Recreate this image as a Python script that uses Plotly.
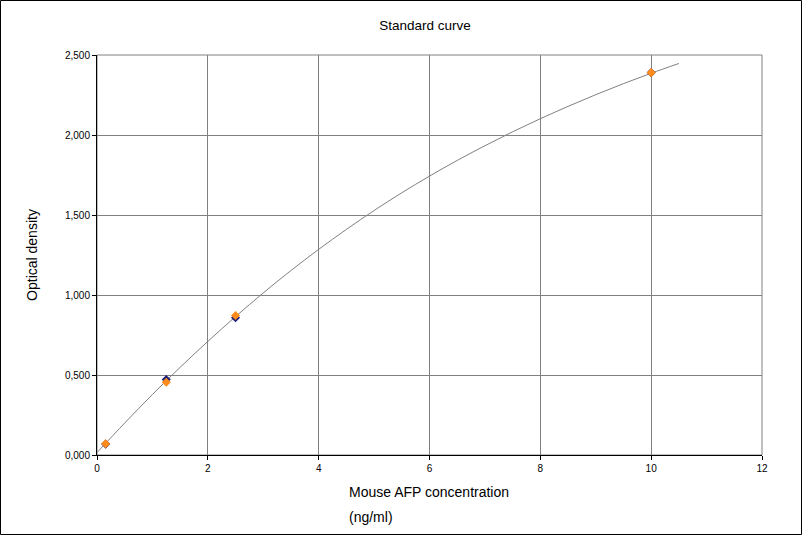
import plotly.graph_objects as go

# standard concentrations (ng/ml) and measured OD, two replicates
conc = [0.156, 1.25, 2.5, 10]
od_rep1 = [0.068, 0.472, 0.858, 2.390]
od_rep2 = [0.070, 0.455, 0.872, 2.390]

# fitted curve, every 0.5 ng/ml
fit_x = [0, 0.5, 1.0, 1.5, 2.0, 2.5, 3.0, 3.5, 4.0, 4.5, 5.0,
         5.5, 6.0, 6.5, 7.0, 7.5, 8.0, 8.5, 9.0, 9.5, 10.0, 10.5]
fit_y = [0.015, 0.200, 0.378, 0.548, 0.710, 0.865, 1.013, 1.153, 1.285, 1.410, 1.528,
         1.639, 1.743, 1.841, 1.933, 2.020, 2.102, 2.179, 2.252, 2.321, 2.386, 2.447]

x_ticks = [0, 2, 4, 6, 8, 10, 12]
y_ticks = [0, 0.5, 1.0, 1.5, 2.0, 2.5]

FONT = "Liberation Sans"

fig = go.Figure()

fig.add_trace(go.Scatter(
    x=fit_x, y=fit_y, mode="lines",
    line=dict(color="#808080", width=1, shape="spline"),
    showlegend=False, hoverinfo="skip"))

fig.add_trace(go.Scatter(
    x=conc, y=od_rep1, mode="markers",
    marker=dict(symbol="diamond", size=7, color="#1f1f7a"),
    showlegend=False))

fig.add_trace(go.Scatter(
    x=conc, y=od_rep2, mode="markers",
    marker=dict(symbol="diamond", size=7, color="#ff8c1a"),
    showlegend=False))

fig.update_layout(
    width=802, height=535,
    margin=dict(l=97, r=40, t=55, b=80),
    paper_bgcolor="white", plot_bgcolor="white",
    separators=",.",
    font=dict(family=FONT, size=10, color="black"),
    title=dict(text="Standard curve", x=0.53, xanchor="center", y=0.953, yanchor="middle",
               font=dict(family=FONT, size=13.5)),
    showlegend=False,
)

fig.update_xaxes(
    range=[0, 12], tickvals=x_ticks, showgrid=True, gridcolor="#808080", gridwidth=1,
    showline=True, linecolor="black", linewidth=1, ticks="outside", ticklen=4,
    tickcolor="black", zeroline=False)

fig.update_yaxes(
    range=[0, 2.5], tickvals=y_ticks, tickformat=".3f", showgrid=True,
    gridcolor="#808080", gridwidth=1,
    showline=True, linecolor="black", linewidth=1, ticks="outside", ticklen=4,
    tickcolor="black", zeroline=False,
    title=dict(text="Optical density", font=dict(family=FONT, size=14), standoff=24))

# right/top border of the plot area in grey
fig.add_shape(type="rect", xref="paper", yref="paper", x0=0, y0=0, x1=1, y1=1,
              line=dict(color="#808080", width=1), layer="below")

# x axis title, two left-aligned lines
fig.add_annotation(
    text="Mouse AFP concentration", xref="paper", yref="paper",
    x=0.376, y=-0.0925, xanchor="left", yanchor="middle", showarrow=False,
    font=dict(family=FONT, size=14))
fig.add_annotation(
    text="(ng/ml)", xref="paper", yref="paper",
    x=0.376, y=-0.155, xanchor="left", yanchor="middle", showarrow=False,
    font=dict(family=FONT, size=14))

# black frame around the whole picture
fig.add_shape(type="rect", xref="paper", yref="paper",
              x0=-96.5 / 665, x1=1 + 39.5 / 665, y0=-79.5 / 400, y1=1 + 54.5 / 400,
              line=dict(color="black", width=1))

fig.write_html("out.html", config={"displayModeBar": False},
               post_script="document.body.style.margin='0px';")
